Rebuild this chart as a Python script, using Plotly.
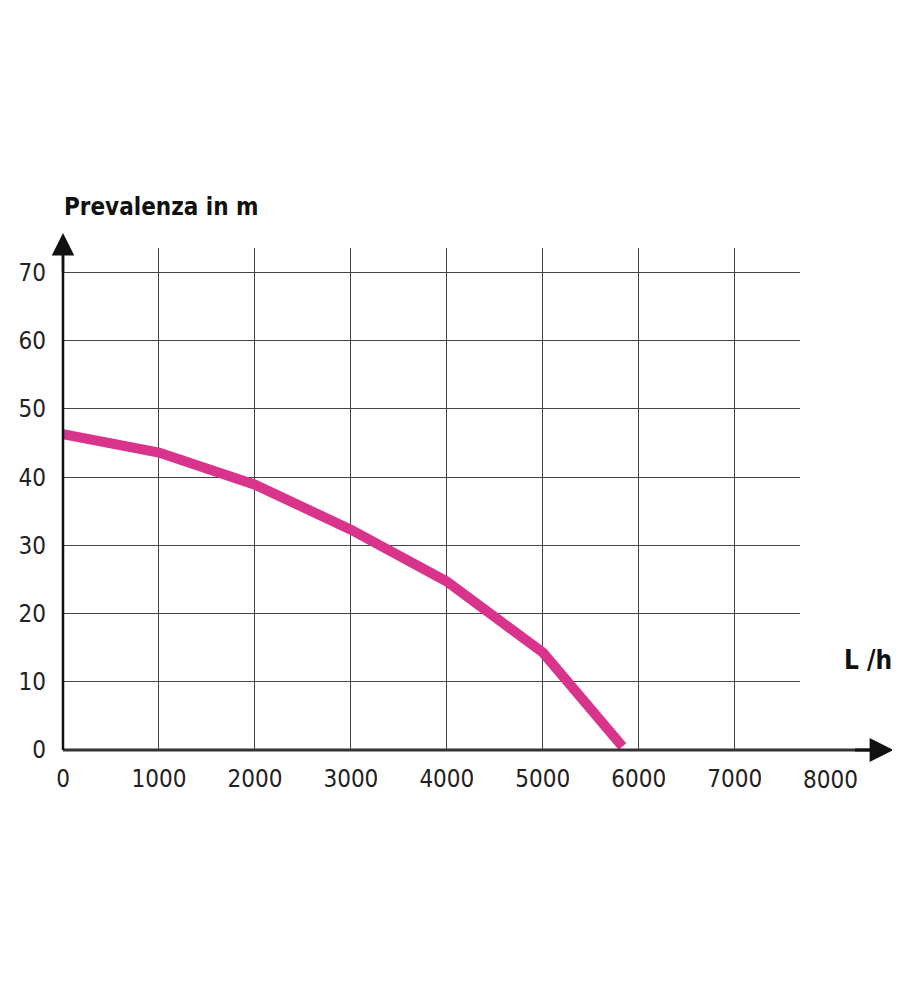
import plotly.graph_objects as go

# dati
portata = [0, 1000, 2000, 3000, 4000, 5000, 5830]
prevalenza = [46.3, 43.6, 38.9, 32.3, 24.7, 14.3, 0.5]

x_ticks = [0, 1000, 2000, 3000, 4000, 5000, 6000, 7000]
x_labels = ["0", "1000", "2000", "3000", "4000", "5000", "6000", "7000"]
y_ticks = [0, 10, 20, 30, 40, 50, 60, 70]
y_labels = ["0", "10", "20", "30", "40", "50", "60", "70"]

font_narrow = "DejaVu Sans Condensed, Liberation Sans Narrow, sans-serif"

fig = go.Figure()

fig.add_trace(go.Scatter(
    x=portata,
    y=prevalenza,
    mode="lines",
    line=dict(color="#d9348b", width=10),
    showlegend=False,
    hoverinfo="skip",
))

# assi con freccia
fig.add_shape(type="line", xref="paper", yref="paper", x0=0, y0=0, x1=1.11, y1=0,
              line=dict(color="#333333", width=3))
fig.add_shape(type="line", xref="paper", yref="paper", x0=0, y0=0, x1=0, y1=1.02,
              line=dict(color="#111111", width=2.5))
fig.add_annotation(xref="paper", yref="paper", x=1.127, y=0, ax=-40, ay=0, text="",
                   showarrow=True, arrowhead=2, arrowsize=1.6, arrowwidth=3,
                   arrowcolor="#111111")
fig.add_annotation(xref="paper", yref="paper", x=0, y=1.03, ax=0, ay=40, text="",
                   showarrow=True, arrowhead=2, arrowsize=1.8, arrowwidth=2.5,
                   arrowcolor="#111111")

# etichette
fig.add_annotation(xref="paper", yref="paper", x=-0.002, y=1.082, xanchor="left", yanchor="middle",
                   text="<b>Prevalenza in m</b>", showarrow=False,
                   font=dict(family=font_narrow, size=24, color="#111111"))
fig.add_annotation(xref="paper", yref="paper", x=1.128, y=0.179, xanchor="right", yanchor="middle",
                   text="<b>L /h</b>", showarrow=False,
                   font=dict(family=font_narrow, size=26, color="#111111"))
fig.add_annotation(xref="paper", yref="paper", x=1.042, y=-0.06, xanchor="center", yanchor="middle",
                   text="8000", showarrow=False,
                   font=dict(family=font_narrow, size=24, color="#222222"))

fig.update_layout(
    width=892,
    height=992,
    autosize=False,
    margin=dict(l=55, r=100, t=240, b=250),
    paper_bgcolor="white",
    plot_bgcolor="white",
    xaxis=dict(
        range=[0, 7680],
        tickvals=x_ticks,
        ticktext=x_labels,
        showgrid=True,
        gridcolor="#444444",
        gridwidth=1,
        zeroline=False,
        showline=False,
        ticks="",
        ticklabelstandoff=12,
        tickfont=dict(family=font_narrow, size=24, color="#222222"),
        fixedrange=True,
    ),
    yaxis=dict(
        range=[0, 73.6],
        tickvals=y_ticks,
        ticktext=y_labels,
        showgrid=True,
        gridcolor="#444444",
        gridwidth=1,
        zeroline=False,
        showline=False,
        ticks="",
        ticklabelstandoff=16,
        tickfont=dict(family=font_narrow, size=24, color="#222222"),
        fixedrange=True,
    ),
)

fig.write_html("out.html")
